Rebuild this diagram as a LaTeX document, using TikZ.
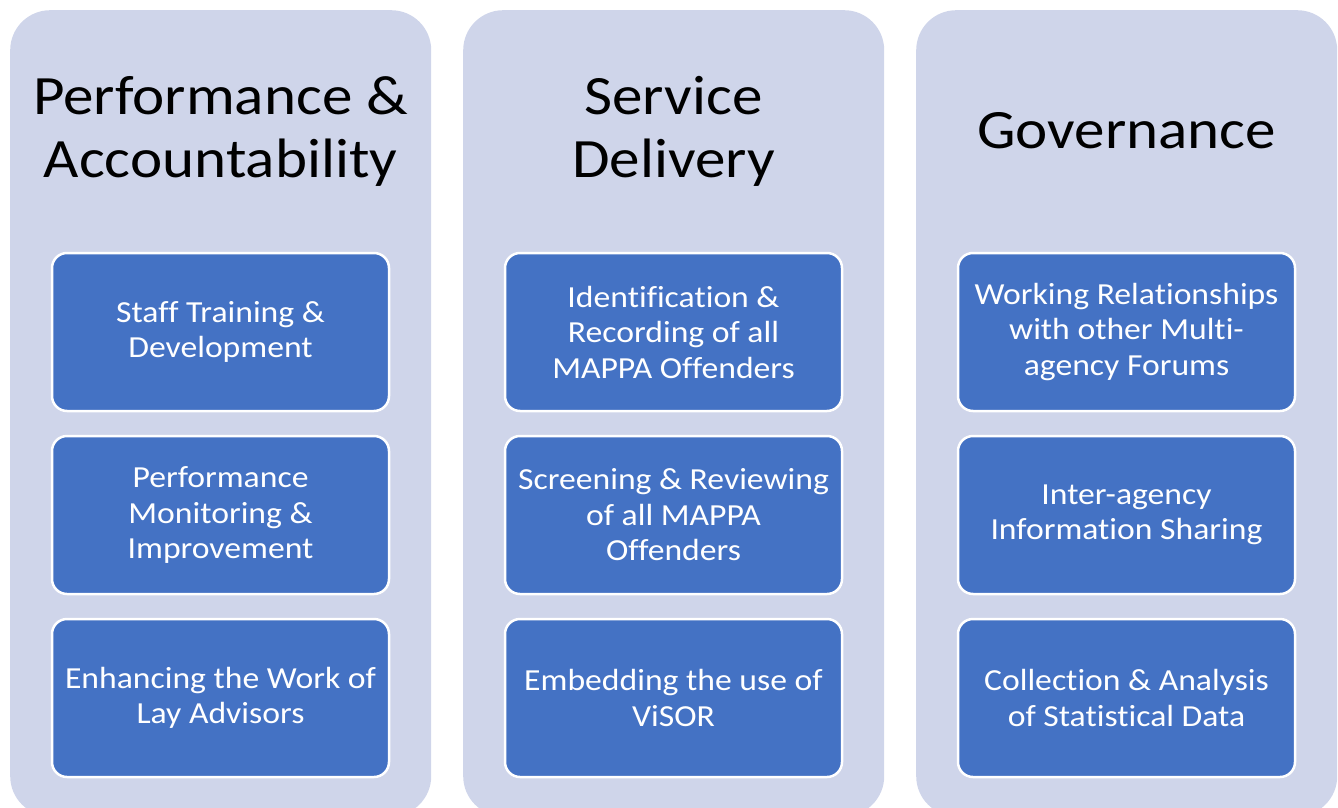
\documentclass[tikz,border=0pt]{standalone}
\usepackage{fontspec}
\setmainfont{Carlito}[FakeStretch=1.1,Ligatures={NoCommon}]
\definecolor{bg}{HTML}{CFD5EA}
\definecolor{bx}{HTML}{4472C4}
\begin{document}
\begin{tikzpicture}[x=1pt,y=-1pt,
 colbox/.style={fill=bg, draw=none, rounded corners=40pt, minimum width=421pt, minimum height=806pt, inner sep=0pt, anchor=north west},
 item/.style={fill=bx, draw=white, line width=2.5pt, rounded corners=15pt, minimum width=337pt, minimum height=158pt, text=white, font=\fontsize{30.6}{35.5}\selectfont, align=center, inner sep=0pt},
 title/.style={font=\fontsize{55.5}{63}\selectfont, align=center, text=black, inner sep=0pt}]
\useasboundingbox (0,0) rectangle (1338,808);
\clip (0,0) rectangle (1338,808);
\node[colbox] (c1) at (10,10) {};
\node[colbox] (c2) at (463,10) {};
\node[colbox] (c3) at (916,10) {};
\node[title] (t1) at (220.5,131) {Performance \&\\Accountability};
\node[title] (t2) at (673.5,131) {Service\\Delivery};
\node[title] (t3) at (1126.5,131) {Governance};
\node[item] (a1) at (220.5,332) {Staff Training \&\\Development};
\node[item] (a2) at (220.5,515) {Performance\\Monitoring \&\\Improvement};
\node[item] (a3) at (220.5,698) {Enhancing the Work of\\Lay Advisors};
\node[item] (b1) at (673.5,332) {Identification \&\\Recording of all\\MAPPA Offenders};
\node[item] (b2) at (673.5,515) {Screening \& Reviewing\\of all MAPPA\\Offenders};
\node[item] (b3) at (673.5,698) {Embedding the use of\\ViSOR};
\node[item] (g1) at (1126.5,332) {Working Relationships\\with other Multi-\\agency Forums};
\node[item] (g2) at (1126.5,515) {Inter-agency\\Information Sharing};
\node[item] (g3) at (1126.5,698) {Collection \& Analysis\\of Statistical Data};
\end{tikzpicture}
\end{document}
